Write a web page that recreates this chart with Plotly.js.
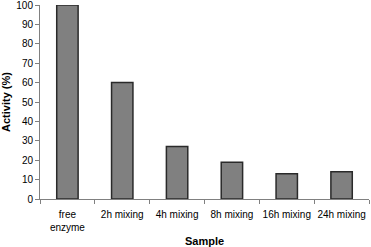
<!DOCTYPE html>
<html>
<head>
<meta charset="utf-8">
<script src="https://cdn.plot.ly/plotly-3.0.1.min.js"></script>
<style>html,body{margin:0;padding:0;background:#fff;}#chart{width:371px;height:247px;}</style>
</head>
<body>
<div id="chart"></div>
<script>
const categories = ["free<br>enzyme", "2h mixing", "4h mixing", "8h mixing", "16h mixing", "24h mixing"];
const activity = [100, 60, 27, 19, 13, 14];
const yTicks = [0, 10, 20, 30, 40, 50, 60, 70, 80, 90, 100];

const font = {family: "Liberation Sans, Arial, sans-serif", size: 10, color: "#000"};

Plotly.newPlot("chart", [{
  type: "bar",
  x: categories,
  y: activity,
  width: 0.39,
  marker: {color: "#808080", line: {color: "#2a2a2a", width: 1.5}},
  hoverinfo: "none"
}], {
  width: 371, height: 247,
  margin: {l: 40, r: 2, t: 5, b: 48},
  paper_bgcolor: "#fff", plot_bgcolor: "#fff",
  font: font,
  showlegend: false,
  xaxis: {
    type: "category",
    automargin: false,
    tickangle: 0,
    ticklabelstandoff: 6,
    showline: true, linecolor: "#808080", linewidth: 1,
    ticks: "outside", tickson: "boundaries", ticklen: 4, tickcolor: "#808080",
    showgrid: false, zeroline: false,
    tickfont: {family: font.family, size: 10, color: "#000"},
    title: {text: "<b>Sample</b>", font: {family: font.family, size: 11, color: "#000"}, standoff: 6}
  },
  yaxis: {
    range: [0, 100],
    automargin: false,
    ticklabeloverflow: "allow",
    tickvals: yTicks,
    showline: true, linecolor: "#808080", linewidth: 1,
    ticks: "outside", ticklen: 4, tickcolor: "#808080",
    showgrid: false, zeroline: false,
    tickfont: {family: font.family, size: 10, color: "#000"},
    title: {text: "<b>Activity (%)</b>", font: {family: font.family, size: 11, color: "#000"}, standoff: 8}
  }
}, {staticPlot: true, displayModeBar: false});
</script>
</body>
</html>
